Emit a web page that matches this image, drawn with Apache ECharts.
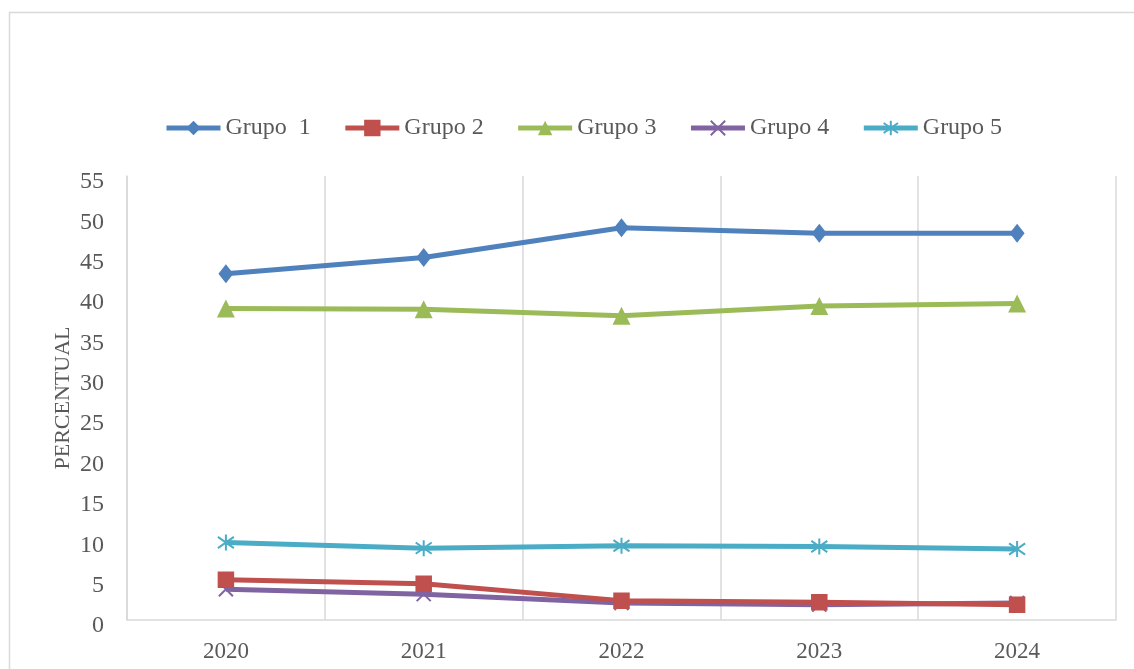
<!DOCTYPE html>
<html>
<head>
<meta charset="utf-8">
<script src="https://cdn.jsdelivr.net/npm/echarts@6/dist/echarts.min.js"></script>
<style>
html,body{margin:0;padding:0;background:#fff;}
#chart{width:1134px;height:669px;}
</style>
</head>
<body>
<div id="chart"></div>
<script>
const categories = ['2020', '2021', '2022', '2023', '2024'];
const seriesNames = ['Grupo  1', 'Grupo 2', 'Grupo 3', 'Grupo 4', 'Grupo 5'];
const grupo1 = [42.9, 44.9, 48.6, 47.9, 47.9];
const grupo2 = [5.0, 4.5, 2.4, 2.2, 1.9];
const grupo3 = [38.6, 38.5, 37.7, 38.9, 39.2];
const grupo4 = [3.8, 3.2, 2.1, 1.9, 2.1];
const grupo5 = [9.6, 8.9, 9.2, 9.1, 8.8];
const yTicks = [0, 5, 10, 15, 20, 25, 30, 35, 40, 45, 50, 55];
const yAxisName = 'PERCENTUAL';

const colors = ['#4F81BD', '#C0504D', '#9BBB59', '#8064A2', '#4BACC6'];
const FONT = '"Liberation Serif", "Times New Roman", serif';
const TXT = '#595959';

const xSym = 'path://M0,0 L10,10 M10,0 L0,10';
const starSym = 'path://M5,0 L5,10 M0,1.5 L10,8.5 M10,1.5 L0,8.5';

const symbols = [
  {symbol: 'diamond', size: [15, 19], bw: 0},
  {symbol: 'rect', size: 15, bw: 1.5},
  {symbol: 'triangle', size: 18, bw: 0},
  {symbol: xSym, size: [14, 14], bw: 2},
  {symbol: starSym, size: [16, 16], bw: 2}
];
const dataArr = [grupo1, grupo2, grupo3, grupo4, grupo5];

const chart = echarts.init(document.getElementById('chart'), null, {renderer: 'canvas'});

const series = dataArr.map((d, i) => ({
  name: seriesNames[i],
  type: 'line',
  data: d,
  symbol: symbols[i].symbol,
  symbolSize: symbols[i].size,
  showAllSymbol: true,
  lineStyle: {color: colors[i], width: 5},
  itemStyle: {color: colors[i], borderColor: colors[i], borderWidth: symbols[i].bw},
  emphasis: {disabled: true},
  z: 10 - i
}));

const option = {
  animation: false,
  color: colors,
  graphic: [{
    type: 'rect',
    shape: {x: 9.5, y: 12.5, width: 1140, height: 700},
    style: {fill: 'none', stroke: '#D9D9D9', lineWidth: 1.5},
    silent: true,
    z: -10
  }],
  legend: {
    left: 159,
    top: 111,
    itemWidth: 54,
    itemHeight: 18,
    itemGap: 32,
    lineStyle: {width: 5},
    textStyle: {fontFamily: FONT, fontSize: 24, color: TXT},
    data: seriesNames
  },
  grid: {left: 127, right: 18, top: 176, bottom: 49, containLabel: false},
  xAxis: {
    type: 'category',
    data: categories,
    boundaryGap: true,
    axisLine: {show: true, lineStyle: {color: '#D9D9D9', width: 1.5}},
    axisTick: {show: false},
    axisLabel: {fontFamily: FONT, fontSize: 23, color: TXT, margin: 20},
    splitLine: {show: true, lineStyle: {color: '#D9D9D9', width: 1.5}}
  },
  yAxis: {
    type: 'value',
    min: yTicks[0],
    max: yTicks[yTicks.length - 1],
    interval: 5,
    name: yAxisName,
    nameLocation: 'middle',
    nameGap: 53,
    nameMoveOverlap: false,
    nameRotate: 90,
    nameTextStyle: {fontFamily: FONT, fontSize: 22, color: TXT},
    axisLine: {show: true, lineStyle: {color: '#D9D9D9', width: 1.5}},
    axisTick: {show: false},
    axisLabel: {fontFamily: FONT, fontSize: 24, color: TXT, margin: 23, verticalAlign: 'top', lineHeight: 12},
    splitLine: {show: false}
  },
  series: series
};
chart.setOption(option);
</script>
</body>
</html>
